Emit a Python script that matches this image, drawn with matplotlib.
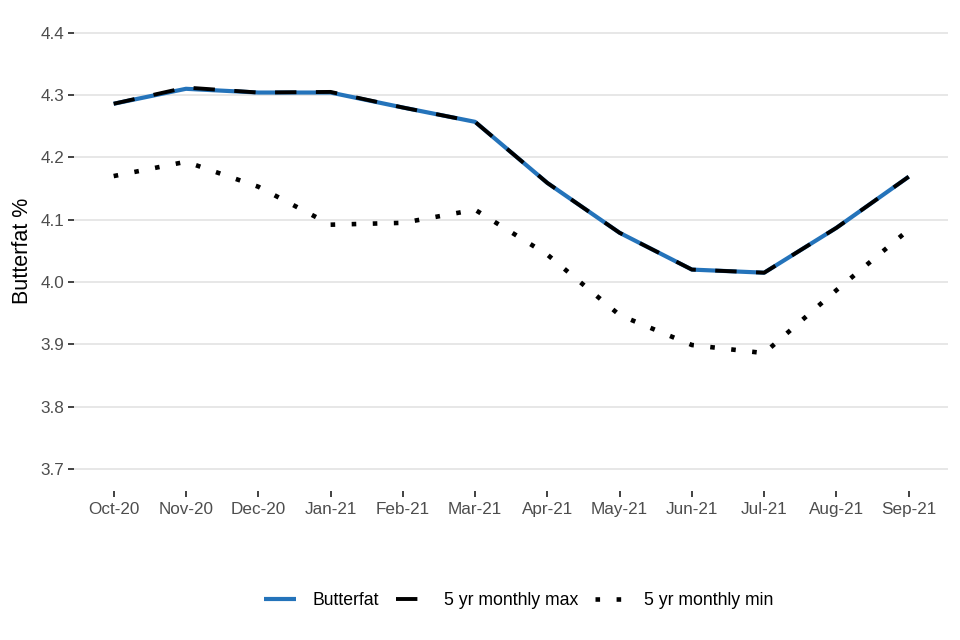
import matplotlib
matplotlib.use("Agg")
import matplotlib.pyplot as plt

months = ["Oct-20", "Nov-20", "Dec-20", "Jan-21", "Feb-21", "Mar-21",
          "Apr-21", "May-21", "Jun-21", "Jul-21", "Aug-21", "Sep-21"]
butterfat = [4.286, 4.310, 4.304, 4.304, 4.280, 4.257,
             4.159, 4.079, 4.020, 4.015, 4.087, 4.169]
max_5yr = [4.286, 4.312, 4.304, 4.305, 4.280, 4.257,
           4.159, 4.079, 4.020, 4.015, 4.087, 4.169]
min_5yr = [4.170, 4.193, 4.153, 4.092, 4.095, 4.116,
           4.044, 3.947, 3.899, 3.886, 3.987, 4.084]
yticks = [3.7, 3.8, 3.9, 4.0, 4.1, 4.2, 4.3, 4.4]

plt.rcParams["font.family"] = ["Liberation Sans", "DejaVu Sans"]

fig = plt.figure(figsize=(9.6, 6.4), dpi=100)
ax = fig.add_axes([0.077, 0.233, 0.911, 0.75])

x = range(len(months))
ax.plot(x, butterfat, color="#2473BA", lw=3.0, solid_capstyle="butt", label="Butterfat")
ax.plot(x, max_5yr, color="black", lw=2.8, dashes=(5.5, 5), dash_capstyle="butt",
        label="5 yr monthly max")
ax.plot(x, min_5yr, color="black", lw=3.3, dashes=(1, 3.6), dash_capstyle="butt",
        label="5 yr monthly min")

ax.set_xlim(-0.55, len(months) - 0.45)
ax.set_ylim(3.665, 4.435)
ax.set_xticks(list(x))
ax.set_xticklabels(months)
ax.set_yticks(yticks)
ax.set_yticklabels([f"{v:.1f}" for v in yticks])

ax.grid(axis="y", color="#E5E5E5", lw=1.3)
ax.set_axisbelow(True)
for s in ax.spines.values():
    s.set_visible(False)
ax.tick_params(axis="y", length=4, width=1.3, color="#333333", labelsize=12.3,
               labelcolor="#4D4D4D", pad=3)
ax.tick_params(axis="x", length=4, width=1.3, color="#333333", labelsize=12.3,
               labelcolor="#4D4D4D", pad=4)
ax.set_ylabel("Butterfat %", fontsize=15.5, color="black", labelpad=5)

fig.legend(loc="center", bbox_to_anchor=(0.54, 0.062), ncol=3, frameon=False,
           fontsize=12.7, handlelength=1.8, columnspacing=0.95, handletextpad=0.95)

fig.savefig("out.png", dpi=100)
